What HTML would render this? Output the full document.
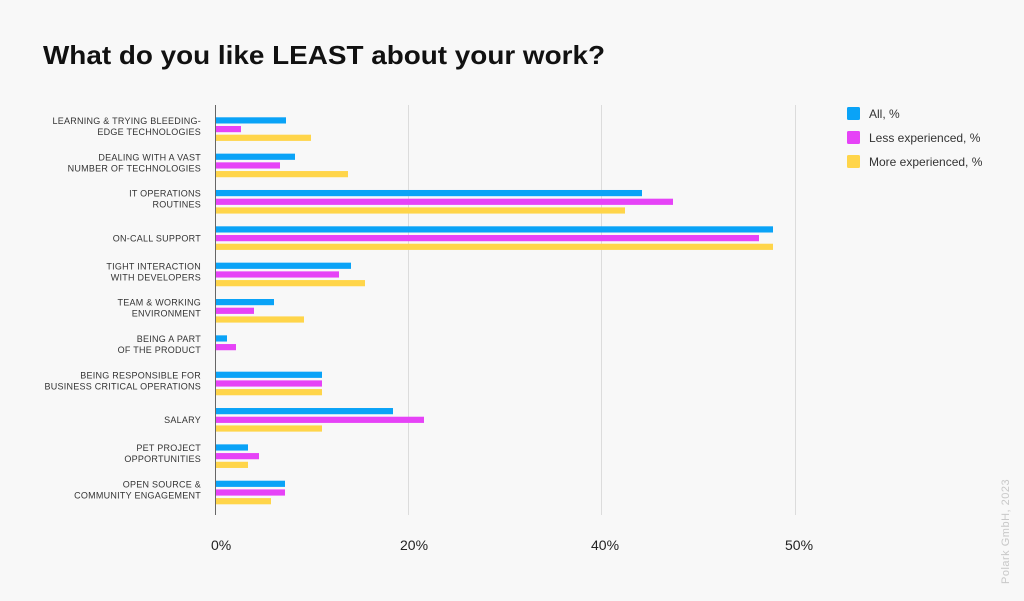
<!DOCTYPE html>
<html><head><meta charset="utf-8"><style>
html,body{margin:0;padding:0;background:#f8f8f8;}
svg{display:block;font-family:"Liberation Sans",sans-serif;}
</style></head><body>
<svg width="1024" height="601" viewBox="0 0 1024 601" xmlns="http://www.w3.org/2000/svg">
<rect width="1024" height="601" fill="#f8f8f8"/>
<text x="43" y="64" font-size="26" font-weight="bold" fill="#111" textLength="562" lengthAdjust="spacingAndGlyphs">What do you like LEAST about your work?</text>
<g stroke="#dcdcdc" stroke-width="1">
<line x1="408.5" y1="105" x2="408.5" y2="515"/>
<line x1="601.5" y1="105" x2="601.5" y2="515"/>
<line x1="795.5" y1="105" x2="795.5" y2="515"/>
</g>
<g id="bars"></g>
<line x1="215.5" y1="105" x2="215.5" y2="515" stroke="#666" stroke-width="1"/>
<g font-size="14" fill="#222">
<text x="211" y="550">0%</text>
<text x="400" y="550">20%</text>
<text x="591" y="550">40%</text>
<text x="785" y="550">50%</text>
</g>
<g font-size="12" fill="#333">
<rect x="847" y="107" width="13" height="13" rx="1.5" fill="#0aa3f7"/><text x="869" y="118">All, %</text>
<rect x="847" y="131" width="13" height="13" rx="1.5" fill="#e643f7"/><text x="869" y="142">Less experienced, %</text>
<rect x="847" y="155" width="13" height="13" rx="1.5" fill="#ffd54a"/><text x="869" y="166">More experienced, %</text>
</g>
<text transform="translate(1009,584) rotate(-90)" font-size="11" fill="#c8c8c8" letter-spacing="0.5">Polark GmbH, 2023</text>
<g font-size="9" fill="#333" text-anchor="end" letter-spacing="0.25" id="labels"></g>
<script>
var data=[
["LEARNING & TRYING BLEEDING-","EDGE TECHNOLOGIES",286,241,311],
["DEALING WITH A VAST","NUMBER OF TECHNOLOGIES",295,280,348],
["IT OPERATIONS","ROUTINES",642,673,625],
["ON-CALL SUPPORT","",773,759,773],
["TIGHT INTERACTION","WITH DEVELOPERS",351,339,365],
["TEAM & WORKING","ENVIRONMENT",274,254,304],
["BEING A PART","OF THE PRODUCT",227,236,216],
["BEING RESPONSIBLE FOR","BUSINESS CRITICAL OPERATIONS",322,322,322],
["SALARY","",393,424,322],
["PET PROJECT","OPPORTUNITIES",248,259,248],
["OPEN SOURCE &","COMMUNITY ENGAGEMENT",285,285,271]];
var cols=["#0aa3f7","#e643f7","#ffd54a"];
var ns="http://www.w3.org/2000/svg";
var B=document.getElementById("bars"),L=document.getElementById("labels");
data.forEach(function(d,i){
 var top=117.3+36.34*i;
 for(var k=0;k<3;k++){
  var w=d[2+k]-216; if(w<=0) continue;
  var r=document.createElementNS(ns,"rect");
  r.setAttribute("x",216);r.setAttribute("y",top+k*8.7);
  r.setAttribute("width",w);r.setAttribute("height",6.2);r.setAttribute("fill",cols[k]);
  B.appendChild(r);
 }
 var c=top+12;
 function t(s,y){var e=document.createElementNS(ns,"text");e.setAttribute("x",201);e.setAttribute("y",y);e.textContent=s;L.appendChild(e);}
 if(d[1]){t(d[0],c-5.3);t(d[1],c+5.7);}else t(d[0],c+3);
});
</script>
</svg>
</body></html>
